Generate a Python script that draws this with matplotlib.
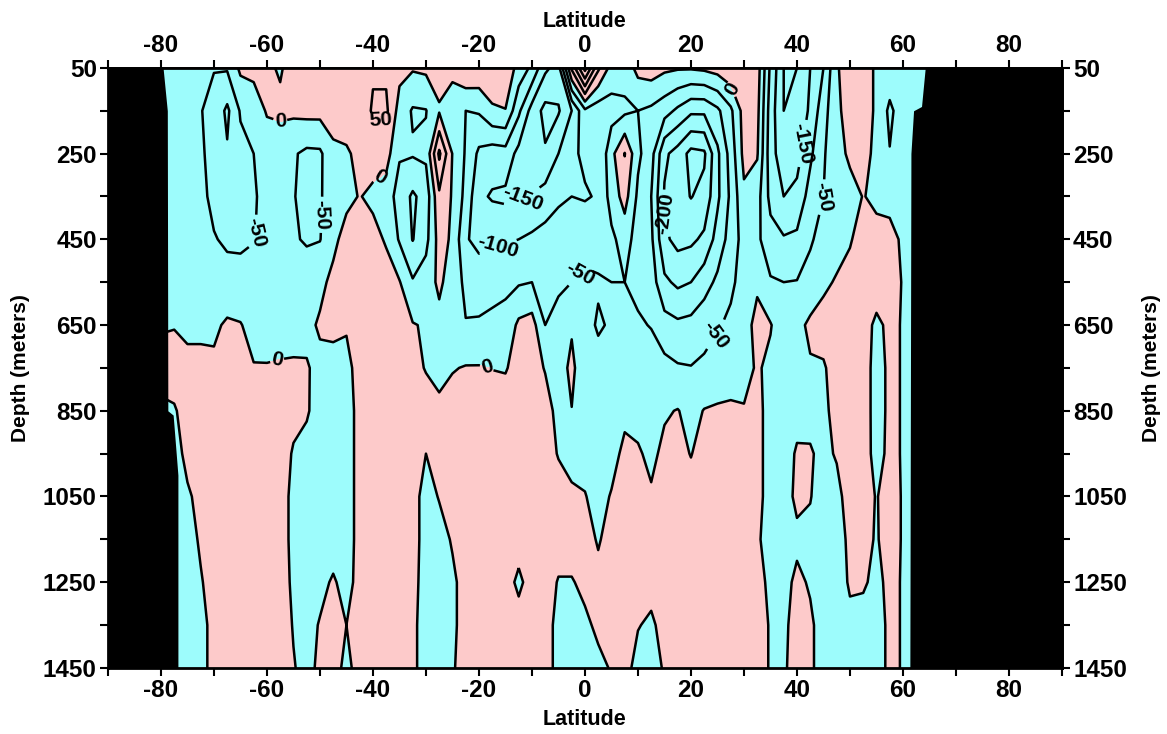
import numpy as np
import matplotlib
matplotlib.use("Agg")
import matplotlib.pyplot as plt

plt.rcParams['font.family'] = ['Liberation Sans', 'DejaVu Sans']
plt.rcParams['font.weight'] = 'bold'
plt.rcParams['axes.unicode_minus'] = False

CYAN = '#9dfcfc'
PINK = '#fdcaca'

# section grid: depth rows (m) and latitude columns (deg)
depths = [50, 150, 250, 350, 450, 550, 650, 750, 850, 950, 1050, 1150, 1250, 1350, 1450]
lats = np.arange(-80, 65.1, 2.5)

# one profile per latitude, listed from 50 m down to 1450 m
profiles = [
    [-30, -30, -30, -30, -30, -25, -5, 20, -10, -20, -20, -20, -20, -20, -20],      # -80
    [-30, -35, -35, -35, -30, -25, -3, 25, -5, -15, -15, -15, -20, -20, -20],       # -77.5
    [-35, -40, -40, -40, -35, -25, -12, 15, 20, 10, -5, -15, -15, -20, -20],        # -75
    [-40, -48, -45, -42, -38, -28, -12, 15, 20, 20, 10, 5, -3, -10, -10],           # -72.5
    [-48, -65, -62, -58, -48, -32, -10, 10, 25, 25, 25, 20, 15, 10, 10],            # -70
    [-45, -110, -95, -70, -55, -38, 8, 25, 25, 25, 25, 25, 25, 25, 25],             # -67.5
    [10, -45, -65, -60, -55, -40, 3, 20, 25, 25, 25, 25, 25, 25, 25],               # -65
    [15, -30, -50, -55, -52, -30, -20, 3, 25, 25, 25, 25, 25, 25, 25],              # -62.5
    [8, 5, -30, -35, -35, -30, -15, 2, 20, 25, 25, 25, 25, 25, 25],                 # -60
    [-5, 10, -30, -35, -35, -30, -20, 5, 20, 25, 25, 25, 25, 25, 25],               # -57.5
    [20, 10, -45, -48, -45, -30, -15, 5, 15, -5, -15, -15, -10, -3, 3],             # -55
    [25, 15, -60, -62, -55, -25, -10, 3, 5, -15, -20, -20, -20, -15, -15],          # -52.5
    [35, 15, -58, -55, -52, -10, 5, -10, -20, -20, -20, -20, -12, 3, 10],           # -50
    [40, 30, -15, -25, -10, 10, 10, -15, -25, -25, -25, -20, 5, 15, 15],            # -47.5
    [45, 20, -5, -10, 15, 20, 5, -15, -20, -20, -20, -20, -15, 0, -10],             # -45
    [50, 25, 10, 2, 30, 30, 25, 20, 15, 15, 15, 15, 15, 15, 15],                    # -42.5
    [45, 55, 20, -10, 15, 35, 30, 30, 25, 25, 25, 25, 25, 25, 25],                  # -40
    [40, 60, 20, -25, -5, 20, 25, 25, 25, 25, 25, 25, 25, 25, 25],                  # -37.5
    [15, -20, -45, -70, -55, 3, 20, 25, 25, 25, 25, 25, 20, 20, 20],                # -35
    [5, -55, -45, -108, -102, -45, 3, 10, 20, 20, 20, 20, 15, 10, 10],              # -32.5
    [10, -52, -40, -80, -65, -25, -5, -2, 15, 0, -20, -20, -20, -20, -20],          # -30
    [20, -5, 110, 40, 20, 10, -15, -20, 15, 15, 3, -20, -25, -20, -20],             # -27.5
    [20, -40, -2, -5, -8, -25, -20, -3, 20, 20, 20, 5, -10, -10, -5],               # -25
    [45, -50, -55, -65, -95, -60, -48, 3, 20, 20, 20, 20, 20, 20, 20],              # -22.5
    [40, -45, -110, -140, -115, -70, -45, 3, 20, 20, 20, 20, 20, 20, 20],           # -20
    [40, -8, -125, -155, -110, -65, -40, -1, 20, 20, 20, 20, 20, 20, 20],           # -17.5
    [40, -2, -120, -160, -105, -60, -35, -3, 20, 20, 20, 20, 20, 20, 20],           # -15
    [-20, -90, -165, -155, -100, -55, 10, 15, 20, 20, 20, 20, -10, 20, 20],         # -12.5
    [-60, -170, -175, -148, -90, -50, 20, 20, 20, 20, 20, 20, 20, 20, 20],          # -10
    [-140, -215, -195, -130, -80, -60, -50, -3, 20, 20, 20, 20, 20, 20, 20],        # -7.5
    [-170, -205, -150, -110, -70, -55, -40, -20, -15, -3, 20, 20, -3, -15, -15],    # -5
    [60, -150, -110, -100, -70, -50, -5, 10, -1, -10, 5, 20, -3, -20, -20],         # -2.5
    [220, -60, -90, -105, -60, -45, -35, -30, -25, -15, 2, 20, 10, -8, -15],        # 0
    [60, -80, -100, -95, -70, -45, -55, -35, -25, -20, -15, -5, 15, 8, -10],        # 2.5
    [-20, -70, -15, -30, -60, -50, -45, -40, -25, -15, 3, 20, 20, 20, 3],           # 5
    [-30, -60, 52, 20, -30, -50, -45, -40, -10, 10, 20, 20, 20, 20, 20],            # 7.5
    [15, -50, -40, -60, -70, -60, -45, -35, -15, 5, 20, 20, 20, 3, -20],            # 10
    [25, -60, -80, -100, -90, -75, -52, -30, -10, -10, 5, 20, 20, -10, -20],        # 12.5
    [10, -80, -190, -205, -190, -140, -80, -35, -5, 10, 20, 20, 20, 20, 5],         # 15
    [5, -110, -220, -230, -215, -160, -90, -45, 2, 15, 20, 20, 20, 20, 20],         # 17.5
    [5, -140, -265, -252, -210, -150, -85, -48, -15, -2, 20, 20, 20, 20, 20],       # 20
    [10, -140, -258, -235, -190, -120, -70, -40, 2, 20, 20, 20, 20, 20, 20],        # 22.5
    [20, -110, -160, -160, -130, -90, -55, -25, 5, 20, 20, 20, 20, 20, 20],         # 25
    [40, -60, -80, -90, -80, -60, -40, -15, 5, 20, 20, 20, 20, 20, 20],             # 27.5
    [40, 20, 15, -10, -30, -30, -20, -15, 3, 20, 20, 20, 20, 20, 20],               # 30
    [25, 15, 5, -30, -40, -8, 15, 5, 15, 15, 15, 5, 15, 15, 15],                    # 32.5
    [-110, -125, -130, -115, -80, -45, 3, -10, -20, -20, -20, -15, -10, -3, -3],    # 35
    [-200, -200, -180, -150, -95, -50, -30, -20, -20, -20, -20, -20, -15, -8, -5],  # 37.5
    [-200, -195, -170, -135, -90, -48, -15, -15, -15, 5, 10, -10, 10, 15, 15],      # 40
    [-150, -140, -110, -80, -55, -35, 10, -5, -10, 3, 2, -10, -5, 8, 8],            # 42.5
    [-100, -70, -55, -50, -35, -10, 20, -5, -10, -8, -20, -20, -20, -20, -20],      # 45
    [-5, -10, -20, -30, -20, 5, 25, 20, 15, 3, -10, -20, -20, -20, -20],            # 47.5
    [25, 20, 10, -20, -5, 20, 30, 30, 25, 20, 15, 10, 5, -10, -20],                 # 50
    [30, 30, 20, 2, 25, 30, 20, 25, 25, 20, 15, 10, 5, -15, -20],                   # 52.5
    [-10, -10, -15, -10, 15, 25, -10, -20, -20, -15, -2, -3, -10, -20, -20],        # 55
    [-20, -60, -48, -10, 10, 20, 10, 10, 10, 10, 15, 15, 10, 10, 10],               # 57.5
    [-25, -25, -20, -10, -5, -3, -3, -3, -3, -3, -3, -3, -3, -3, -3],               # 60
    [-25, -25, -20, -20, -20, -20, -20, -20, -20, -20, -20, -20, -20, -20, -20],    # 62.5
    [-25, -25, -20, -20, -20, -20, -20, -20, -20, -20, -20, -20, -20, -20, -20],    # 65
]

# land / no-data edges
west_edge_depth = [50, 150, 850, 860, 1000, 1450]
west_edge_lat = [-79.6, -78.8, -78.7, -77.7, -76.8, -76.8]
east_edge_depth = [50, 140, 150, 250, 1450]
east_edge_lat = [64.2, 63.5, 62.0, 61.5, 61.3]

# where the contour values get written
label_spots = [(-64.3, 433), (-49.4, 393), (-57.4, 190), (-38.7, 183), (-38.3, 318),
               (-58.1, 731), (-11.7, 358), (-16.6, 456), (-1.5, 521), (-18.5, 748),
               (17.5, 381), (40.6, 225), (44.7, 351), (24.2, 666), (26.8, 106)]

field = np.array(profiles).T

fig = plt.figure(figsize=(11.67, 7.34), dpi=100)
ax = fig.add_axes([0.0925, 0.09, 0.8175, 0.8175])

ax.contourf(lats, depths, field, levels=[-1000, 0, 1000], colors=[CYAN, PINK])
cs = ax.contour(lats, depths, field, levels=np.arange(-250, 251, 50),
                colors='black', linewidths=1.8, linestyles='solid')
labels = ax.clabel(cs, fmt='%d', fontsize=15, manual=label_spots,
                   inline=True, inline_spacing=3)
for t in labels:
    t.set_fontweight('bold')

ax.fill_betweenx(west_edge_depth, -90, west_edge_lat, color='black', lw=0, zorder=3)
ax.fill_betweenx(east_edge_depth, east_edge_lat, 90, color='black', lw=0, zorder=3)

ax.set_xlim(-90, 90)
ax.set_ylim(1450, 50)

xt = np.arange(-80, 81, 20)
yt = np.arange(50, 1451, 200)
ax.set_xticks(xt)
ax.set_xticks(np.arange(-90, 91, 10), minor=True)
ax.set_yticks(yt)
ax.set_yticks(np.arange(150, 1451, 200), minor=True)
ax.set_xlabel('Latitude', fontsize=15.5, fontweight='bold', labelpad=5)
ax.set_ylabel('Depth (meters)', fontsize=15, fontweight='bold', labelpad=9)

top = ax.secondary_xaxis('top')
top.set_xticks(xt)
top.set_xticks(np.arange(-90, 91, 10), minor=True)
top.set_xlabel('Latitude', fontsize=15.5, fontweight='bold', labelpad=5)
right = ax.secondary_yaxis('right')
right.set_yticks(yt)
right.set_yticks(np.arange(150, 1451, 200), minor=True)
right.set_ylabel('Depth (meters)', fontsize=15, fontweight='bold', labelpad=11)

for a in (ax, top, right):
    a.tick_params(which='both', direction='out', length=6, width=1.5, labelsize=17.5, pad=2)
    for s in a.spines.values():
        s.set_linewidth(2)

fig.savefig('out.png', dpi=100)
